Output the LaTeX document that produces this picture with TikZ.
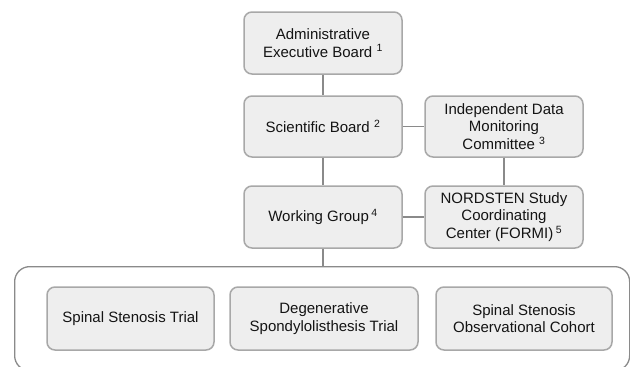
\documentclass[tikz,border=0pt]{standalone}
\usepackage{fontspec}
\setmainfont{Liberation Sans}
\begin{document}
\begin{tikzpicture}[x=1pt,y=-1pt,
  box/.style={draw=boxline, fill=boxfill, line width=1.5pt, rounded corners=8pt,
    align=center, inner sep=0pt, text=txt, font=\fontsize{15}{17.5}\selectfont},
  conn/.style={draw=connline, line width=1.5pt}
]
\definecolor{boxline}{HTML}{A8A8A8}
\definecolor{boxfill}{HTML}{EEEEEE}
\definecolor{connline}{HTML}{8A8A8A}
\definecolor{txt}{HTML}{141414}
\useasboundingbox (0,0) rectangle (630,367);
\fill[white] (0,0) rectangle (630,367);

\node[draw=connline, line width=1.3pt, rounded corners=15pt, minimum width=615pt, minimum height=104pt, anchor=north west, inner sep=0pt] (cont) at (14,266) {};

\node[box, minimum width=158pt, minimum height=62pt] (admin) at (323,43) {Administrative\\Executive Board \textsuperscript{1}};
\node[box, minimum width=158pt, minimum height=61pt] (sci) at (323,126.5) {Scientific Board \textsuperscript{2}};
\node[box, minimum width=158pt, minimum height=61pt] (idmc) at (504,126.5) {Independent Data\\Monitoring\\Committee \textsuperscript{3}};
\node[box, minimum width=158pt, minimum height=62pt] (wg) at (323,217) {Working Group\,\textsuperscript{4}};
\node[box, minimum width=158pt, minimum height=62pt] (nord) at (504,217) {NORDSTEN Study\\Coordinating\\Center (FORMI)\,\textsuperscript{5}};

\node[box, minimum width=167pt, minimum height=63pt] (sst) at (130.5,318.5) {Spinal Stenosis Trial};
\node[box, minimum width=188pt, minimum height=63pt] (dst) at (324,318.5) {Degenerative\\Spondylolisthesis Trial};
\node[box, minimum width=176pt, minimum height=63pt] (soc) at (524,318.5) {Spinal Stenosis\\Observational Cohort};

\draw[conn] (admin.south) -- (sci.north);
\draw[conn] (sci.east) -- (idmc.west);
\draw[conn] (idmc.south) -- (nord.north);
\draw[conn] (sci.south) -- (wg.north);
\draw[conn] (wg.east) -- (nord.west);
\draw[conn] (wg.south) -- (wg.south |- cont.north);
\end{tikzpicture}
\end{document}
